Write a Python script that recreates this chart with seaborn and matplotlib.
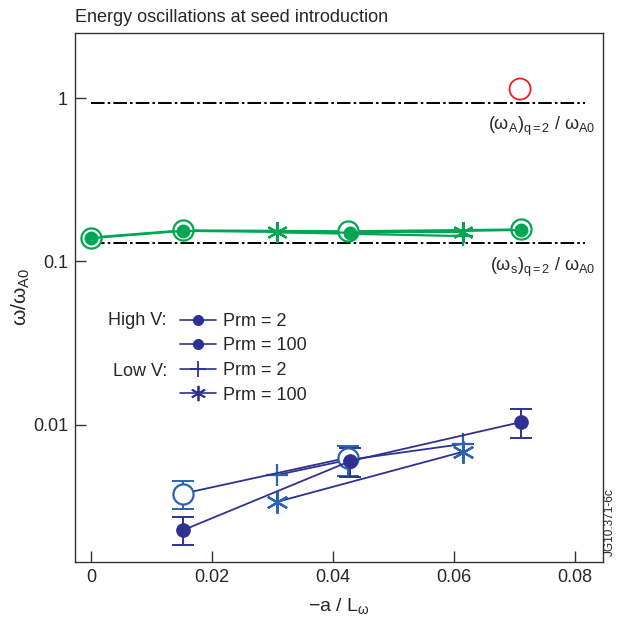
import matplotlib
matplotlib.use("Agg")
import matplotlib.pyplot as plt
from matplotlib.lines import Line2D
from matplotlib.ticker import FixedLocator, FixedFormatter, NullLocator
import seaborn as sns

# ---------------- data ----------------
title = "Energy oscillations at seed introduction"
x_label = r"$-a\ /\ L_{\omega}$"
y_label = r"$\omega/\omega_{A0}$"
x_ticks = [0, 0.02, 0.04, 0.06, 0.08]
x_tick_labels = ["0", "0.02", "0.04", "0.06", "0.08"]
y_ticks = [0.01, 0.1, 1]
y_tick_labels = ["0.01", "0.1", "1"]

alfven_level = 0.93
sound_level = 0.130
ref_line_x = [0.0, 0.0817]
alfven_label = r"$(\omega_A)_{q=2}\ /\ \omega_{A0}$"
sound_label = r"$(\omega_s)_{q=2}\ /\ \omega_{A0}$"

red_x = [0.0709]
red_y = [1.135]

green_hi2_x = [0, 0.0152, 0.0428, 0.0710]
green_hi2_y = [0.139, 0.154, 0.150, 0.156]
green_hi100_x = [0, 0.0152, 0.0424, 0.0710]
green_hi100_y = [0.140, 0.155, 0.153, 0.157]
green_lo2_x = [0.0307, 0.0615]
green_lo2_y = [0.151, 0.143]
green_lo100_x = [0.0307, 0.0615]
green_lo100_y = [0.151, 0.151]

blue_hi2_x = [0.0152, 0.0428, 0.0710]
blue_hi2_y = [0.00227, 0.0060, 0.0104]
blue_hi2_lo = [0.00183, 0.0048, 0.0083]
blue_hi2_hi = [0.00274, 0.0072, 0.0125]
blue_hi100_x = [0.0152, 0.0424]
blue_hi100_y = [0.0038, 0.0063]
blue_hi100_lo = [0.00304, 0.0049]
blue_hi100_hi = [0.00455, 0.0074]
blue_lo2_x = [0.0307, 0.0424, 0.0615]
blue_lo2_y = [0.00494, 0.0061, 0.00765]
blue_lo100_x = [0.0307, 0.0615]
blue_lo100_y = [0.00338, 0.00686]

legend_labels = ["Prm = 2", "Prm = 100", "Prm = 2", "Prm = 100"]
group_labels = ["High V:", "Low V:"]
side_note = "JG10.371-6c"

# ---------------- style ----------------
NAVY = "#2e3192"
BLUE = "#2b62b2"
GREEN = "#00a651"
RED = "#ed1c24"

sns.set_theme(style="white")
plt.rcParams["font.family"] = ["Liberation Sans", "DejaVu Sans"]
plt.rcParams["mathtext.fontset"] = "custom"
plt.rcParams["mathtext.rm"] = "Liberation Sans"
plt.rcParams["mathtext.it"] = "Liberation Sans"
plt.rcParams["mathtext.bf"] = "Liberation Sans:bold"
plt.rcParams["mathtext.default"] = "regular"

fig = plt.figure(figsize=(6.22, 6.19), dpi=100)
ax = fig.add_axes([75 / 622, (619 - 562) / 619, 528 / 622, (562 - 33) / 619])
ax.set_yscale("log")

asterisk = (6, 2, 0)


def series(x, y, color, lcolor, marker, ms, mfc, mew, z, lw=1.3):
    sns.lineplot(x=x, y=y, ax=ax, color=lcolor, lw=lw, marker=marker,
                 markersize=ms, markerfacecolor=mfc, markeredgecolor=color,
                 markeredgewidth=mew, sort=False, legend=False, zorder=z,
                 errorbar=None)


# reference levels
ax.plot(ref_line_x, [alfven_level] * 2, color="black", lw=1.4,
        linestyle=(0, (7, 1.6, 1.3, 1.6)), zorder=1)
ax.plot(ref_line_x, [sound_level] * 2, color="black", lw=1.4,
        linestyle=(0, (7, 1.6, 1.3, 1.6)), zorder=1)

# red Alfven point
sns.scatterplot(x=red_x, y=red_y, ax=ax, marker="o", s=230, facecolor="none",
                edgecolor=RED, linewidth=1.3, zorder=5, legend=False)

# green series
series(green_lo2_x, green_lo2_y, GREEN, GREEN, "+", 15, "none", 1.6, 3, 1.6)
series(green_lo100_x, green_lo100_y, GREEN, GREEN, asterisk, 15, "none", 1.6, 3, 1.6)
series(green_hi100_x, green_hi100_y, GREEN, GREEN, "o", 14.5, "white", 1.6, 3, 1.6)
series(green_hi2_x, green_hi2_y, GREEN, GREEN, "o", 9.5, GREEN, 0.5, 4, 1.6)

# blue series error bars
ax.errorbar(blue_hi100_x, blue_hi100_y,
            yerr=[[y - l for y, l in zip(blue_hi100_y, blue_hi100_lo)],
                  [h - y for y, h in zip(blue_hi100_y, blue_hi100_hi)]],
            fmt="none", ecolor=BLUE, elinewidth=1.4, capsize=8, capthick=1.4, zorder=2)
ax.errorbar(blue_hi2_x, blue_hi2_y,
            yerr=[[y - l for y, l in zip(blue_hi2_y, blue_hi2_lo)],
                  [h - y for y, h in zip(blue_hi2_y, blue_hi2_hi)]],
            fmt="none", ecolor=NAVY, elinewidth=1.4, capsize=8, capthick=1.4, zorder=2)

# blue series
series(blue_lo2_x, blue_lo2_y, BLUE, NAVY, "+", 16, "none", 1.6, 3)
series(blue_lo100_x, blue_lo100_y, BLUE, NAVY, asterisk, 16, "none", 1.6, 3)
series(blue_hi100_x, blue_hi100_y, BLUE, NAVY, "o", 14.5, "white", 1.6, 3)
series(blue_hi2_x, blue_hi2_y, NAVY, NAVY, "o", 10, NAVY, 0.5, 4)

# axes
ax.set_xlim(-0.00264, 0.0846)
ax.set_ylim(0.00145, 2.5)
ax.xaxis.set_major_locator(FixedLocator(x_ticks))
ax.xaxis.set_major_formatter(FixedFormatter(x_tick_labels))
ax.yaxis.set_major_locator(FixedLocator(y_ticks))
ax.yaxis.set_major_formatter(FixedFormatter(y_tick_labels))
ax.yaxis.set_minor_locator(NullLocator())
ax.xaxis.set_minor_locator(NullLocator())
ax.tick_params(axis="both", which="major", direction="in", length=8, width=1,
               color="#333333", labelsize=13, pad=5, top=False, right=False,
               left=True, bottom=True)
for sp in ax.spines.values():
    sp.set_color("#333333")
    sp.set_linewidth(1.0)

ax.set_xlabel(x_label, fontsize=14, labelpad=7)
ax.set_ylabel(y_label, fontsize=15, labelpad=1)
ax.set_title(title, loc="left", fontsize=13, pad=8)

ax.text(0.985, 0.823, alfven_label, transform=ax.transAxes, ha="right",
        va="center", fontsize=13)
ax.text(0.985, 0.557, sound_label, transform=ax.transAxes, ha="right",
        va="center", fontsize=13)

# legend
handles = [
    Line2D([], [], color=NAVY, lw=1.2, marker="o", markersize=7,
           markerfacecolor=NAVY, markeredgecolor=NAVY),
    Line2D([], [], color=NAVY, lw=1.2, marker="o", markersize=7,
           markerfacecolor=NAVY, markeredgecolor=NAVY),
    Line2D([], [], color=NAVY, lw=1.2, marker="+", markersize=12,
           markeredgewidth=1.3, markeredgecolor=NAVY),
    Line2D([], [], color=NAVY, lw=1.2, marker=asterisk, markersize=11,
           markeredgewidth=1.3, markeredgecolor=NAVY),
]
ax.legend(handles, legend_labels, loc="upper left",
          bbox_to_anchor=(0.199, 0.471), frameon=False, fontsize=13,
          borderpad=0, borderaxespad=0, handlelength=2.0, handletextpad=0.35,
          labelspacing=0.42)
ax.text(0.174, 0.457, group_labels[0], transform=ax.transAxes, ha="right",
        va="center", fontsize=13)
ax.text(0.174, 0.361, group_labels[1], transform=ax.transAxes, ha="right",
        va="center", fontsize=13)

fig.text(610 / 622, 1 - 522 / 619, side_note, rotation=90, fontsize=8.5,
         ha="center", va="center")

fig.savefig("out.png", dpi=100)
